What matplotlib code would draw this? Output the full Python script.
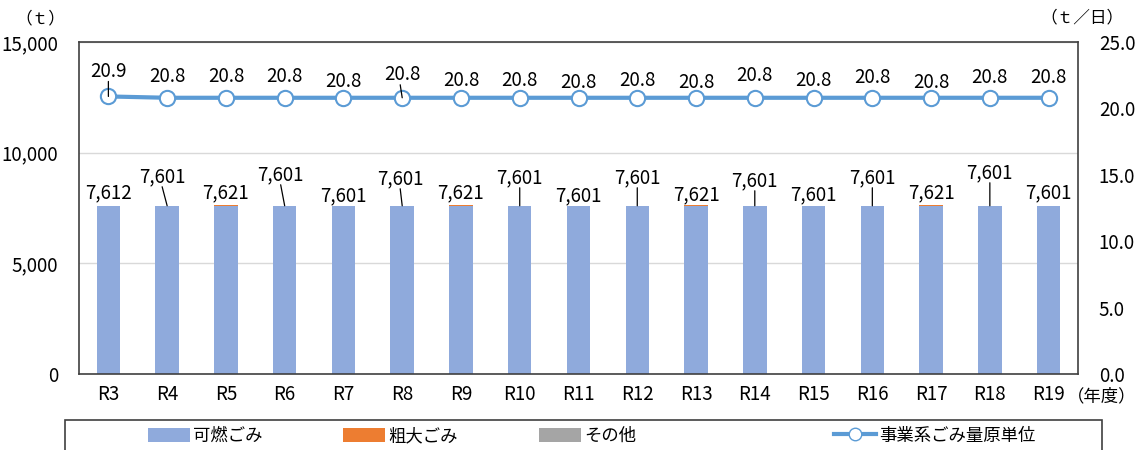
import matplotlib
matplotlib.use("Agg")
import matplotlib.pyplot as plt
from matplotlib.lines import Line2D
from matplotlib.patches import Patch, Rectangle

plt.rcParams['font.family'] = ['Noto Sans CJK JP', 'DejaVu Sans']

years = ["R3", "R4", "R5", "R6", "R7", "R8", "R9", "R10", "R11", "R12",
         "R13", "R14", "R15", "R16", "R17", "R18", "R19"]
combustible = [7587, 7576, 7596, 7576, 7576, 7576, 7596, 7576, 7576, 7576,
               7596, 7576, 7576, 7576, 7596, 7576, 7576]
bulky = [25, 25, 25, 25, 25, 25, 25, 25, 25, 25, 25, 25, 25, 25, 25, 25, 25]
other = [0, 0, 0, 0, 0, 0, 0, 0, 0, 0, 0, 0, 0, 0, 0, 0, 0]
unit_rate = [20.9, 20.8, 20.8, 20.8, 20.8, 20.8, 20.8, 20.8, 20.8, 20.8,
             20.8, 20.8, 20.8, 20.8, 20.8, 20.8, 20.8]

# label placement (pixels above the bar top / marker)
bar_label_dy = [13, 29, 13, 31, 10, 27, 13, 28, 10, 28, 11, 25, 11, 28, 13, 33, 13]
bar_label_dx = [0, -5, 0, -4, 0, -2, 0, 0, 0, 0, 0, 0, 0, 0, 0, 0, 0]
bar_leader = [False, True, False, True, False, True, False, True, False, True,
              False, True, False, True, False, True, False]
line_label_dy = [25, 21, 21, 21, 16, 23, 17, 17, 15, 17, 15, 22, 17, 20, 15, 20, 20]
line_leader = [True, False, False, False, False, True, False, False, False, False,
               False, False, False, False, False, False, False]

BAR_BLUE = "#8FAADC"
ORANGE = "#ED7D31"
GRAY = "#A5A5A5"
LINE_BLUE = "#5B9BD5"
FRAME = "#404040"
FS = 13.5

fig = plt.figure(figsize=(11.37, 4.5), dpi=100)
ax = fig.add_axes([79 / 1137, 1 - 374 / 450, (1078 - 79) / 1137, (374 - 42) / 450])
ax2 = ax.twinx()

x = list(range(len(years)))
totals = [a + b + c for a, b, c in zip(combustible, bulky, other)]
base2 = [a + b for a, b in zip(combustible, bulky)]

ax.bar(x, combustible, width=0.4, color=BAR_BLUE, zorder=2)
ax.bar(x, bulky, width=0.4, bottom=combustible, color=ORANGE, zorder=2)
ax.bar(x, other, width=0.4, bottom=base2, color=GRAY, zorder=2)

ax.set_xlim(-0.5, len(years) - 0.5)
ax.set_ylim(0, 15000)
ax.set_yticks([0, 5000, 10000, 15000])
ax.set_yticklabels(["0", "5,000", "10,000", "15,000"])
ax.set_xticks(x)
ax.set_xticklabels(years)
ax.grid(axis='y', color="#D9D9D9", linewidth=1, zorder=0)
ax.set_axisbelow(True)
ax.tick_params(axis='both', length=0, labelsize=FS, colors="#000000")
ax.tick_params(axis='y', pad=15)
ax.tick_params(axis='x', pad=7)
for s in ax.spines.values():
    s.set_color(FRAME)
    s.set_linewidth(1.2)

ax2.plot(x, unit_rate, color=LINE_BLUE, linewidth=3, marker='o', markersize=11,
         markerfacecolor='white', markeredgecolor=LINE_BLUE, markeredgewidth=1.5,
         zorder=3)
ax2.set_ylim(0, 25)
ax2.set_yticks([0, 5, 10, 15, 20, 25])
ax2.set_yticklabels(["0.0", "5.0", "10.0", "15.0", "20.0", "25.0"])
ax2.tick_params(axis='y', length=0, labelsize=FS, pad=15)
for s in ax2.spines.values():
    s.set_visible(False)

# value labels for bar totals
for i, t in enumerate(totals):
    dx, dy = bar_label_dx[i], bar_label_dy[i]
    ax.annotate(f"{t:,}", xy=(i, t), xytext=(dx, dy), textcoords='offset pixels',
                ha='center', va='center', fontsize=FS, zorder=4)
    if bar_leader[i]:
        ax.annotate("", xy=(i, t), xytext=(dx, dy - 10), textcoords='offset pixels',
                    arrowprops=dict(arrowstyle='-', color='black', lw=0.9,
                                    shrinkA=0, shrinkB=0))

# value labels for the unit-rate line
for i, v in enumerate(unit_rate):
    ax2.annotate(f"{v:.1f}", xy=(i, v), xytext=(0, line_label_dy[i]),
                 textcoords='offset pixels', ha='center', va='center',
                 fontsize=FS, zorder=5)
    if line_leader[i]:
        ax2.annotate("", xy=(i, v), xytext=(-2 if i else 0, line_label_dy[i] - 10),
                     textcoords='offset pixels',
                     arrowprops=dict(arrowstyle='-', color='black', lw=0.9,
                                     shrinkA=0, shrinkB=0), zorder=6)

fig.text(40 / 1137, 1 - 19 / 450, "（ｔ）", ha='center', va='center', fontsize=12)
fig.text(1082 / 1137, 1 - 18 / 450, "（ｔ／日）", ha='center', va='center', fontsize=12)
fig.text(1067 / 1137, 1 - 396 / 450, "（年度）", ha='left', va='center', fontsize=12.5)

# legend frame and entries
fig.patches.append(Rectangle((65 / 1137, -0.05), (1102 - 65) / 1137, 1 - 420 / 450 + 0.05,
                             transform=fig.transFigure, facecolor='white',
                             edgecolor=FRAME, linewidth=1.2))
entries = [
    (Patch(facecolor=BAR_BLUE), "可燃ごみ", 148),
    (Patch(facecolor=ORANGE), "粗大ごみ", 343),
    (Patch(facecolor=GRAY), "その他", 539),
    (Line2D([], [], color=LINE_BLUE, linewidth=3, marker='o', markersize=9,
            markerfacecolor='white', markeredgecolor=LINE_BLUE), "事業系ごみ量原単位", 834),
]
for h, lab, px in entries:
    fig.legend([h], [lab], loc='center left', bbox_to_anchor=(px / 1137, 1 - 436 / 450),
               frameon=False, fontsize=12.5, handlelength=2.4, handleheight=0.9,
               handletextpad=0.2, borderpad=0, borderaxespad=0)

fig.savefig("out.png", dpi=100)
